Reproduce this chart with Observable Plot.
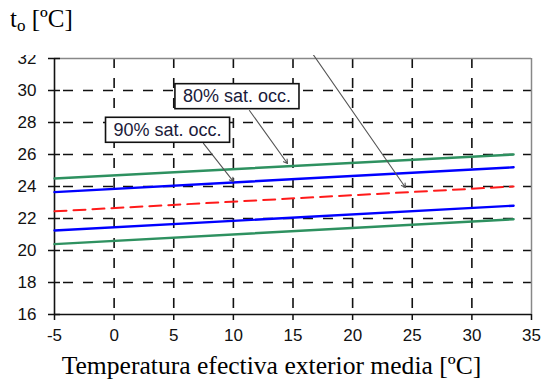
<!DOCTYPE html>
<html><head><meta charset="utf-8">
<script src="https://cdn.jsdelivr.net/npm/d3@7"></script>
<script src="https://cdn.jsdelivr.net/npm/@observablehq/plot@0.6"></script>
<style>
body{margin:0;background:#fff;width:543px;height:382px;position:relative;overflow:hidden}
#title{position:absolute;left:10px;top:6px;font-family:"Liberation Serif","Times New Roman",serif;font-size:25px;color:#000;line-height:1;white-space:nowrap}
#title sub{font-size:17px;vertical-align:-4px;line-height:0}
#wrap{position:absolute;left:0;top:55px;width:543px;height:327px;overflow:hidden}
#xlabel{position:absolute;left:0;top:353px;width:543px;text-align:center;font-family:"Liberation Serif","Times New Roman",serif;font-size:25.6px;line-height:1;color:#000;white-space:nowrap}
</style>
</head><body>
<div id="wrap"></div>
<div id="title">t<sub>o</sub> [ºC]</div>
<div id="xlabel">Temperatura efectiva exterior media [ºC]</div>
<script>
// ---- data ----
const xTicks = [-5, 0, 5, 10, 15, 20, 25, 30, 35];
const yTicks = [16, 18, 20, 22, 24, 26, 28, 30, 32];
const outdoorTemp = [-5, 33.5];
const greenUpper = [24.5, 26.0];
const blueUpper  = [23.65, 25.2];
const redMiddle  = [22.45, 24.0];
const blueLower  = [21.25, 22.8];
const greenLower = [20.4, 21.95];
const labelText = ["80% sat. occ.", "90% sat. occ."];
const labelX = [10.3, 4.48];
const labelY = [29.63, 27.53];
const arrowX1 = [7.49, 11.35, 16.55];
const arrowY1 = [26.69, 28.75, 32.4];
const arrowX2 = [10.01, 14.54, 24.43];
const arrowY2 = [24.31, 25.44, 23.94];

const series = [
  {name: "greenUpper", vals: greenUpper, color: "#2e9160", w: 2.4, dash: null},
  {name: "blueUpper", vals: blueUpper, color: "#0000ff", w: 2.4, dash: null},
  {name: "redMiddle", vals: redMiddle, color: "#ff1a1a", w: 2, dash: "12,7"},
  {name: "blueLower", vals: blueLower, color: "#0000ff", w: 2.4, dash: null},
  {name: "greenLower", vals: greenLower, color: "#2e9160", w: 2.4, dash: null}
];
const lineData = series.map(s => outdoorTemp.map((x, i) => ({x, y: s.vals[i]})));
const labels = labelText.map((t, i) => ({t, x: labelX[i], y: labelY[i]}));
const arrows = arrowX1.map((x1, i) => ({x1, y1: arrowY1[i], x2: arrowX2[i], y2: arrowY2[i]}));

const xMin = d3.min(xTicks), xMax = d3.max(xTicks);
const yMin = d3.min(yTicks), yMax = d3.max(yTicks);
const xGrid = xTicks.filter(v => v !== xMin && v !== xMax);
const yGrid = yTicks.filter(v => v !== yMin && v !== yMax);

const font = "'Liberation Sans', Arial, sans-serif";
const fmt = d => String(d);

const plot = Plot.plot({
  width: 543,
  height: 327,
  marginTop: 3,
  marginBottom: 68,
  marginLeft: 54,
  marginRight: 12,
  style: {fontFamily: font, fontSize: "17px", color: "#111", background: "transparent", overflow: "visible"},
  x: {domain: [xMin, xMax], ticks: xTicks},
  y: {domain: [yMin, yMax], ticks: yTicks},
  marks: [
    Plot.ruleY(yGrid, {stroke: "#111", strokeWidth: 1.6, strokeDasharray: "10,10", strokeDashoffset: 11}),
    Plot.ruleX(xGrid, {stroke: "#111", strokeWidth: 1.6, strokeDasharray: "10,10"}),
    Plot.ruleY([yMax], {stroke: "#888", strokeWidth: 1.5}),
    Plot.ruleX([xMax], {stroke: "#888", strokeWidth: 1.5}),
    Plot.ruleX([xMin], {stroke: "#111", strokeWidth: 1.6}),
    Plot.ruleY([yMin], {stroke: "#111", strokeWidth: 1.6}),
    Plot.axisX({ticks: xTicks, tickFormat: fmt, tickSize: 6, tickPadding: 8, label: null, stroke: "#111", strokeWidth: 1.5, fontSize: 17}),
    Plot.axisY({ticks: yTicks, tickFormat: fmt, tickSize: 6, tickPadding: 12, label: null, stroke: "#111", strokeWidth: 1.5, fontSize: 17}),
    Plot.axisY({ticks: yTicks, tickSize: 6, dx: 6, tickFormat: () => "", label: null, stroke: "#111", strokeWidth: 1.5}),
    ...lineData.map((d, i) => Plot.line(d, {x: "x", y: "y", stroke: series[i].color, strokeWidth: series[i].w, strokeDasharray: series[i].dash})),
    Plot.arrow(arrows, {x1: "x1", y1: "y1", x2: "x2", y2: "y2", stroke: "#555", strokeWidth: 1.1, headLength: 6, insetEnd: 0}),
    Plot.text(labels, {x: "x", y: "y", text: "t", fontSize: 18, fill: "#1a1a3a", className: "boxlabel"})
  ]
});
document.getElementById("wrap").appendChild(plot);

// draw white boxes behind label text, sized from the rendered text
const svg = plot.tagName.toLowerCase() === "svg" ? plot : plot.querySelector("svg");
const sr = svg.getBoundingClientRect();
const g = svg.querySelector("g.boxlabel");
const boxG = document.createElementNS("http://www.w3.org/2000/svg", "g");
svg.insertBefore(boxG, g);
g.querySelectorAll("text").forEach(t => {
  const r = t.getBoundingClientRect();
  const rect = document.createElementNS("http://www.w3.org/2000/svg", "rect");
  rect.setAttribute("x", r.left - sr.left - 8);
  rect.setAttribute("y", r.top - sr.top - 2.5);
  rect.setAttribute("width", r.width + 16);
  rect.setAttribute("height", r.height + 5);
  rect.setAttribute("fill", "#fff");
  rect.setAttribute("stroke", "#111");
  rect.setAttribute("stroke-width", 1.6);
  boxG.appendChild(rect);
});
</script>
</body></html>
